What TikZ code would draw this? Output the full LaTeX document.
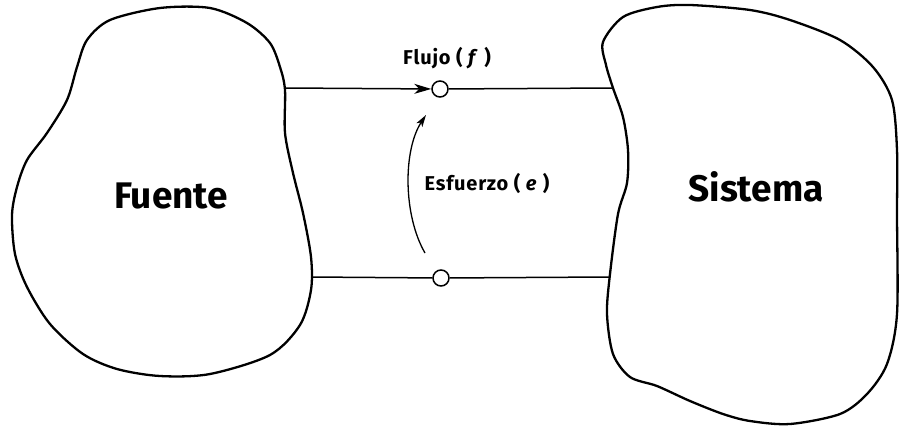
\documentclass[tikz,border=0pt]{standalone}
\usepackage{fontspec}
\setmainfont{Fira Sans}
\usetikzlibrary{arrows.meta}
\tikzset{
  blob/.style={line width=2.3pt, line join=round},
  wire/.style={line width=1.5pt},
  terminal/.style={circle, draw, line width=1.5pt, fill=white, minimum size=16pt, inner sep=0pt},
  biglabel/.style={font=\fontsize{37}{40}\selectfont\bfseries},
  smalllabel/.style={font=\fontsize{20}{22}\selectfont\bfseries\addfontfeatures{LetterSpace=4}},
}
\begin{document}
\begin{tikzpicture}[x=1pt,y=-1pt]
\useasboundingbox (0,0) rectangle (899,429);
% Fuente blob
\draw[blob] plot[smooth cycle, tension=0.5] coordinates {
 (160,8) (210,8) (247,23) (270,43) (280,67) (285,90) (285,133) (293,173) (303,213)
 (311,257) (311,290) (300,325) (270,355) (210,374) (160,376) (117,369) (83,354)
 (50,324) (27,287) (15,254) (12,215) (17,187) (27,160) (47,133) (67,100) (77,67)
 (87,40) (110,20)};
% Sistema blob
\draw[blob] plot[smooth cycle, tension=0.5] coordinates {
 (623,17) (657,7) (690,5) (750,10) (790,20) (840,40) (873,67) (892,100) (897,150)
 (897,214) (897,314) (887,364) (867,394) (840,414) (790,424) (750,421) (723,414)
 (690,401) (657,386) (630,377) (613,354) (607,314) (610,274) (618,214) (627,183)
 (628,150) (623,117) (613,88) (606,65) (603,42)};
\coordinate (fa) at (285,88);
\coordinate (fb) at (311,277);
\coordinate (sa) at (613,88);
\coordinate (sb) at (609,277);
\node[terminal] (t1) at (440,89) {};
\node[terminal] (t2) at (441,278) {};
\draw[wire, -{Stealth[length=17pt,width=10pt,inset=5pt]}] (fa) -- (t1);
\draw[wire] (t1) -- (sa);
\draw[wire] (fb) -- (t2);
\draw[wire] (t2) -- (sb);
\coordinate (c1) at (425,253);
\coordinate (c2) at (426,115);
\draw[wire, line width=1.3pt, -{Stealth[length=12pt,width=7pt,inset=3pt]}] (c1) .. controls (403,215) and (403,150) .. (c2);
\node[smalllabel] (lf) at (447,58) {Flujo ( \textit{f} )};
\node[smalllabel] (le) at (487,183) {Esfuerzo ( \textit{e} )};
\node[biglabel] (fu) at (171,196) {Fuente};
\node[biglabel] (si) at (756,187) {Sistema};
\end{tikzpicture}
\end{document}
